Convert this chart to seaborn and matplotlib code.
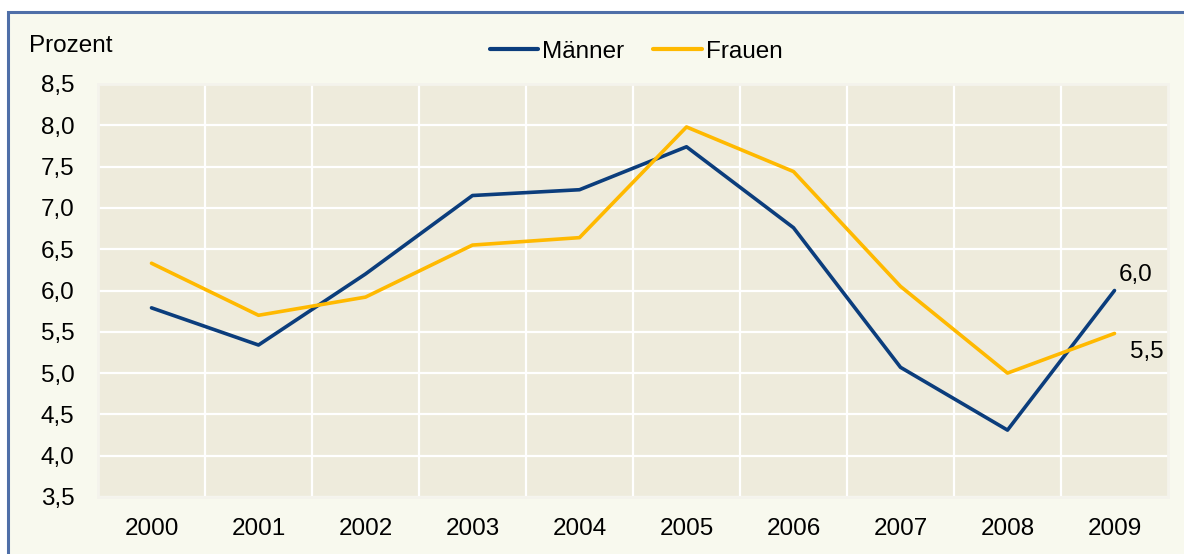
import numpy as np
import pandas as pd
import matplotlib
matplotlib.use("Agg")
import matplotlib.pyplot as plt
import seaborn as sns
from matplotlib.patches import Rectangle
from matplotlib.lines import Line2D

# Daten
jahre = [2000, 2001, 2002, 2003, 2004, 2005, 2006, 2007, 2008, 2009]
maenner = [5.79, 5.34, 6.20, 7.15, 7.22, 7.74, 6.76, 5.07, 4.31, 6.00]
frauen = [6.33, 5.70, 5.92, 6.55, 6.64, 7.98, 7.44, 6.05, 5.00, 5.48]
y_ticks = [3.5, 4.0, 4.5, 5.0, 5.5, 6.0, 6.5, 7.0, 7.5, 8.0, 8.5]

farben = {"Männer": "#0b3d7c", "Frauen": "#ffb900"}
FS = 17.5

df = pd.DataFrame({
    "jahr": [str(j) for j in jahre] * 2,
    "wert": maenner + frauen,
    "gruppe": ["Männer"] * len(jahre) + ["Frauen"] * len(jahre),
})
df["pos"] = list(range(len(jahre))) * 2

sns.set_style("white")
plt.rcParams["font.family"] = ["Liberation Sans", "DejaVu Sans"]

fig = plt.figure(figsize=(11.84, 5.54), dpi=100)
fig.patch.set_facecolor("white")

# Rahmen um die Grafik
box = Rectangle((8 / 1184, -0.01), 1.01, (554 - 12) / 554 + 0.01, transform=fig.transFigure,
                facecolor="#f8f9ee", edgecolor="#4f6fa8", linewidth=2.2, zorder=-5)
fig.patches.append(box)

ax = fig.add_axes([98 / 1184, 1 - 497 / 554, (1168 - 98) / 1184, (497 - 84) / 554])
ax.set_zorder(2)
ax.set_facecolor("#eeebdc")

sns.lineplot(data=df, x="pos", y="wert", hue="gruppe", palette=farben,
             linewidth=2.6, ax=ax, legend=False)

ax.set_xlim(-0.5, len(jahre) - 0.5)
ax.set_ylim(3.5, 8.5)
ax.set_yticks(y_ticks)
ax.set_yticklabels([f"{v:.1f}".replace(".", ",") for v in y_ticks])
ax.set_xticks(range(len(jahre)))
ax.set_xticklabels([str(j) for j in jahre])
ax.set_xticks(np.arange(0.5, len(jahre) - 0.5, 1), minor=True)
ax.tick_params(axis="both", which="both", length=0, labelsize=FS, colors="black")
ax.tick_params(axis="x", pad=15)
ax.tick_params(axis="y", pad=17)

ax.grid(False)
ax.yaxis.grid(True, color="white", linewidth=1.6)
ax.xaxis.grid(True, which="minor", color="white", linewidth=1.6)
ax.set_axisbelow(True)
for s in ax.spines.values():
    s.set_color("#f4f3ec")
    s.set_linewidth(2)

ax.set_xlabel("")
ax.set_ylabel("")

# Beschriftung der letzten Werte
ax.annotate("6,0", xy=(9, maenner[-1]), xytext=(3, 3), textcoords="offset points",
            ha="left", va="bottom", fontsize=FS, color="black")
ax.annotate("5,5", xy=(9, frauen[-1]), xytext=(11, -13), textcoords="offset points",
            ha="left", va="center", fontsize=FS, color="black")

fig.text(29 / 1184, 1 - 46 / 554, "Prozent", fontsize=FS, ha="left", va="center", color="black")

handles = [Line2D([], [], color=farben[k], linewidth=3) for k in ["Männer", "Frauen"]]
fig.legend(handles, ["Männer", "Frauen"], loc="center", bbox_to_anchor=(636 / 1184, 1 - 52 / 554),
           ncol=2, frameon=False, fontsize=FS, handlelength=2.0, handletextpad=0.15,
           columnspacing=1.2, labelcolor="black")

fig.savefig("out.png", dpi=100, facecolor=fig.get_facecolor())
